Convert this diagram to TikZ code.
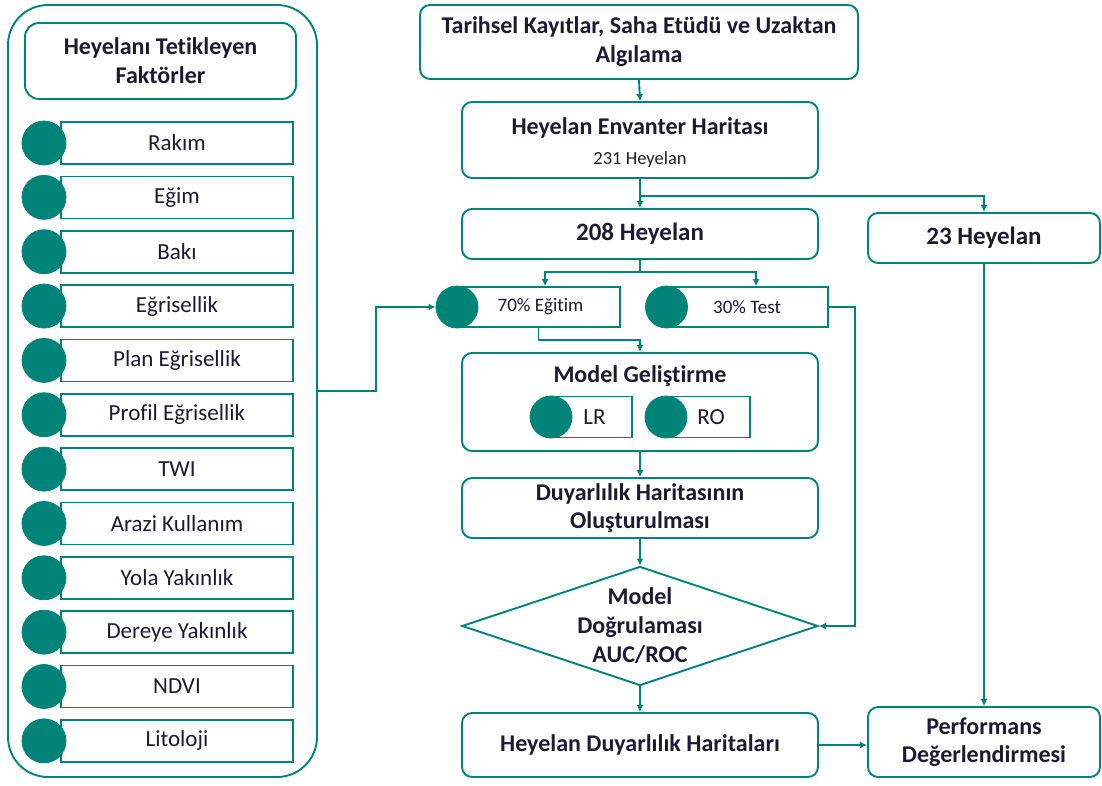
\documentclass[tikz,border=0pt]{standalone}
\usepackage{fontspec}
\setmainfont{Carlito}[Ligatures={NoCommon}]
\usetikzlibrary{arrows.meta,shapes.geometric}
\definecolor{tealc}{RGB}{0,132,122}
\definecolor{txt}{RGB}{28,26,48}
\begin{document}
\begin{tikzpicture}[x=1pt,y=-1pt,
  every node/.style={text=txt},
  rbox/.style={draw=tealc, line width=1.9pt, rounded corners=10pt, fill=white,
               align=center, inner sep=0pt},
  fbox/.style={draw=tealc, line width=1.7pt, fill=white, inner sep=0pt,
               font=\fontsize{23}{27}\selectfont},
  dot/.style={circle, fill=tealc, draw=tealc, line width=0.8pt, inner sep=0pt},
  tbold/.style={font=\fontsize{24}{29}\selectfont\bfseries, align=center, inner sep=0pt},
  conn/.style={draw=tealc, line width=1.9pt},
  link/.style={conn, -{Latex[length=7pt,width=7pt]}}]
\useasboundingbox (0,0) rectangle (1102,785);

% ---------- factor panel ----------
\node[draw=tealc, line width=1.9pt, rounded corners=40pt, minimum width=309pt,
      minimum height=772pt, inner sep=0pt] (panel) at (162.5,391) {};
\node[rbox, rounded corners=14pt, minimum width=271pt, minimum height=76pt,
      font=\fontsize{24}{29}\selectfont\bfseries] (ptitle) at (160.5,61)
      {Heyelanı Tetikleyen\\Faktörler};
\foreach \lab [count=\i from 0] in {Rakım,Eğim,Bakı,Eğrisellik,Plan Eğrisellik,
    Profil Eğrisellik,TWI,Arazi Kullanım,Yola Yakınlık,Dereye Yakınlık,NDVI,Litoloji}{
  \node[fbox, minimum width=232pt, minimum height=42pt] (f\i) at (177,143+54.35*\i) {\lab};
  \node[dot, minimum size=44pt] (fd\i) at (44,143+54.35*\i) {};
}

% ---------- main column ----------
\node[rbox, minimum width=438pt, minimum height=74pt,
      font=\fontsize{24}{29}\selectfont\bfseries] (src) at (639,42)
      {Tarihsel Kayıtlar, Saha Etüdü ve Uzaktan\\Algılama};
\node[rbox, minimum width=356pt, minimum height=76pt] (env) at (640,140) {};
\node[tbold] (envT) at (640,128) {Heyelan Envanter Haritası};
\node[font=\fontsize{18.5}{22}\selectfont, inner sep=0pt] (envN) at (640,160) {231 Heyelan};

\node[rbox, minimum width=356pt, minimum height=50pt,
      font=\fontsize{25}{29}\selectfont\bfseries] (n208) at (640,234) {208 Heyelan};
\node[rbox, minimum width=232pt, minimum height=50pt,
      font=\fontsize{25}{29}\selectfont\bfseries] (n23) at (984,238) {23 Heyelan};

% training / test split
\node[fbox, minimum width=163pt, minimum height=40pt,
      font=\fontsize{19}{22}\selectfont] (train) at (538.5,307) {\hspace*{4pt}70\% Eğitim};
\node[dot, minimum size=42pt] (trainD) at (457,307) {};
\node[fbox, minimum width=162pt, minimum height=40pt,
      font=\fontsize{19}{22}\selectfont] (test) at (747,307) {30\% Test};
\node[dot, minimum size=42pt] (testD) at (666.5,307) {};

% model development
\node[rbox, minimum width=356pt, minimum height=98pt] (model) at (640,402) {};
\node[tbold] (modelT) at (640,376) {Model Geliştirme};
\node[fbox, minimum width=81pt, minimum height=41pt] (lr) at (591.5,417) {\hspace*{6pt}LR};
\node[dot, minimum size=42pt] (lrD) at (551,417) {};
\node[fbox, minimum width=84pt, minimum height=41pt] (ro) at (708,417) {\hspace*{6pt}RO};
\node[dot, minimum size=42pt] (roD) at (666,417) {};

\node[rbox, minimum width=356pt, minimum height=60pt,
      font=\fontsize{24}{28.5}\selectfont\bfseries] (duy) at (640,508)
      {Duyarlılık Haritasının\\Oluşturulması};

\node[diamond, draw=tealc, line width=1.9pt, fill=white, inner sep=0pt,
      minimum width=356pt, minimum height=119pt] (diam) at (640,626) {};
\node[tbold] (diamT) at (640,626) {Model\\Doğrulaması\\AUC/ROC};

\node[rbox, minimum width=356pt, minimum height=64pt,
      font=\fontsize{24}{29}\selectfont\bfseries] (hdh) at (640,745)
      {Heyelan Duyarlılık Haritaları};
\node[rbox, minimum width=232pt, minimum height=70pt,
      font=\fontsize{24}{28.5}\selectfont\bfseries] (perf) at (984,742)
      {Performans\\Değerlendirmesi};

% ---------- connectors ----------
\coordinate (bendL) at (376,0);
\coordinate (split1) at (640,196);
\coordinate (split2) at (640,272);
\coordinate (join) at (640,340);
\coordinate (sideR) at (855,0);

\draw[link] (panel.east) -- (panel.east -| bendL) |- (trainD.west);
\draw[link] (src.south) -- (env.north);
\draw[link] (env.south) -- (n208.north);
\draw[link] (split1) -| (n23.north);
\draw[conn] (n208.south) -- (split2);
\draw[link] (split2) -| ([xshift=6.5pt]train.north);
\draw[link] (split2) -| ([xshift=9pt]test.north);
\draw[link] (train.south) |- (join) -- (model.north);
\draw[link] (test.east) -| (sideR |- diam.east) -- (diam.east);
\draw[link] (model.south) -- (duy.north);
\draw[link] (duy.south) -- (diam.north);
\draw[link] (diam.south) -- (hdh.north);
\draw[link] (hdh.east) -- (hdh.east -| perf.west);
\draw[link] (n23.south) -- (perf.north);
\end{tikzpicture}
\end{document}
